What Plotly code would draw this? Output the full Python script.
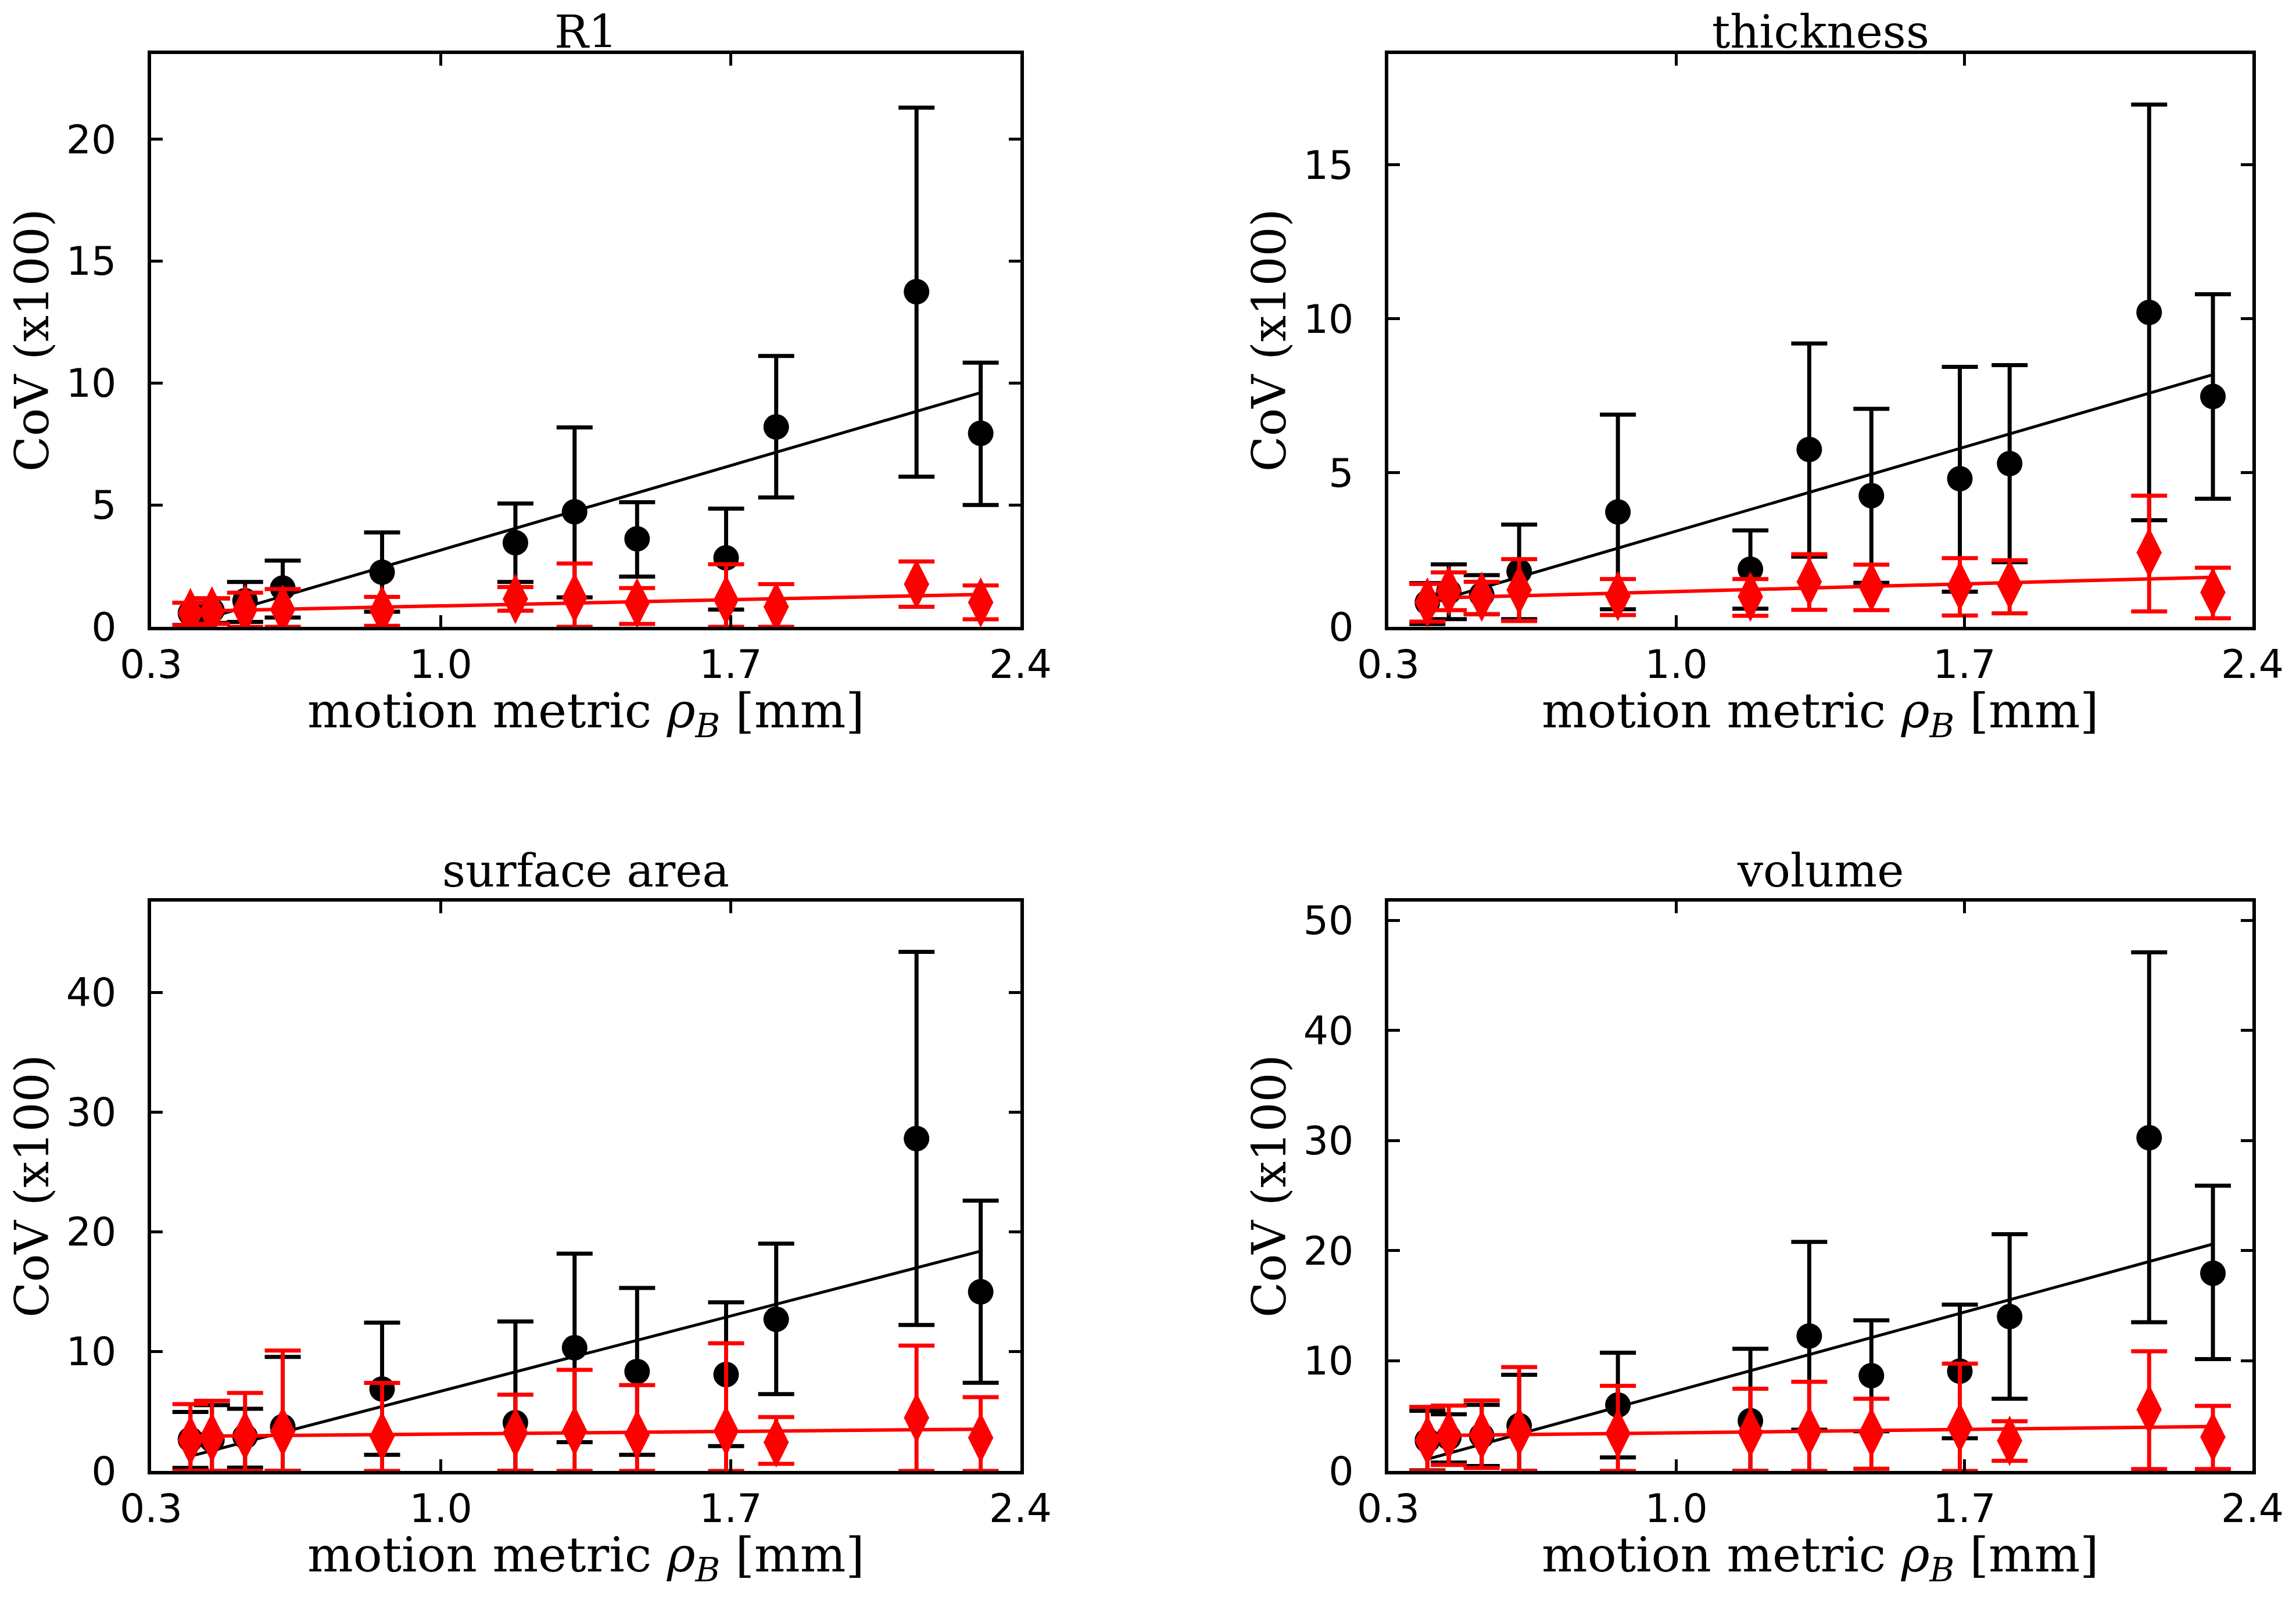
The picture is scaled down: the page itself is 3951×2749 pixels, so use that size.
import plotly.graph_objects as go

# page body has an 8px margin; size the figure so it fits the 3951x2749 window
OFF = 8
FIG_W, FIG_H = 3951 - 2 * OFF, 2749 - 2 * OFF

x_vals = [0.395, 0.447, 0.527, 0.618, 0.858, 1.180, 1.323, 1.474, 1.689, 1.810, 2.149, 2.304]
fit_x = [0.395, 2.304]
x_tickvals = [0.3, 1.0, 1.7, 2.4]
x_ticktext = ["0.3", "1.0", "1.7", "2.4"]

titles = ["R1", "thickness", "surface area", "volume"]

# R1
r1_black = [0.56, 0.67, 1.07, 1.59, 2.24, 3.45, 4.72, 3.61, 2.83, 8.20, 13.75, 7.94]
r1_black_lo = [0.08, 0.16, 0.20, 0.38, 0.62, 1.84, 1.21, 2.06, 0.71, 5.31, 6.16, 5.00]
r1_black_hi = [0.99, 1.17, 1.84, 2.72, 3.87, 5.06, 8.18, 5.11, 4.85, 11.11, 21.30, 10.84]
r1_red = [0.56, 0.63, 0.71, 0.71, 0.67, 1.15, 1.19, 0.98, 1.10, 0.82, 1.75, 1.00]
r1_red_lo = [0.08, 0.12, 0.0, 0.0, 0.04, 0.66, 0.0, 0.12, 0.0, 0.0, 0.82, 0.31]
r1_red_hi = [0.99, 1.17, 1.40, 1.55, 1.23, 1.63, 2.60, 1.59, 2.57, 1.75, 2.68, 1.70]
r1_fit_black = [0.15, 9.61]
r1_fit_red = [0.64, 1.33]

# thickness
th_black = [0.79, 1.14, 1.04, 1.80, 3.73, 1.87, 5.76, 4.26, 4.81, 5.30, 10.21, 7.48]
th_black_lo = [0.09, 0.25, 0.41, 0.25, 0.57, 0.59, 2.28, 1.43, 1.14, 2.10, 3.46, 4.16]
th_black_hi = [1.42, 2.03, 1.68, 3.32, 6.89, 3.13, 9.20, 7.08, 8.44, 8.50, 16.96, 10.80]
th_red = [0.79, 1.17, 0.98, 1.20, 1.00, 0.98, 1.46, 1.30, 1.33, 1.37, 2.41, 1.12]
th_red_lo = [0.17, 0.54, 0.41, 0.19, 0.38, 0.36, 0.55, 0.54, 0.37, 0.44, 0.50, 0.28]
th_red_hi = [1.39, 1.77, 1.46, 2.20, 1.55, 1.55, 2.36, 2.02, 2.23, 2.16, 4.26, 1.92]
th_fit_black = [0.75, 8.19]
th_fit_red = [0.93, 1.61]

# surface area
sa_black = [2.63, 2.60, 2.88, 3.70, 6.85, 4.03, 10.30, 8.31, 8.06, 12.68, 27.79, 14.98]
sa_black_lo = [0.25, 0.0, 0.28, 0.0, 1.35, 0.0, 2.40, 1.35, 2.08, 6.42, 12.20, 7.37]
sa_black_hi = [4.93, 5.50, 5.20, 9.53, 12.40, 12.49, 18.16, 15.30, 14.10, 19.00, 43.40, 22.60]
sa_red = [2.55, 2.79, 2.96, 3.29, 2.88, 3.20, 3.35, 3.02, 3.34, 2.39, 4.44, 2.77]
sa_red_lo = [0.0, 0.0, 0.0, 0.0, 0.0, 0.0, 0.0, 0.0, 0.0, 0.60, 0.0, 0.0]
sa_red_hi = [5.59, 5.87, 6.52, 10.07, 7.36, 6.38, 8.45, 7.18, 10.67, 4.50, 10.48, 6.17]
sa_fit_black = [1.23, 18.38]
sa_fit_red = [2.90, 3.49]

# volume
vo_black = [2.77, 3.04, 3.20, 4.11, 5.99, 4.56, 12.25, 8.65, 9.06, 14.02, 30.26, 17.95]
vo_black_lo = [0.05, 0.77, 0.45, 0.0, 1.22, 0.0, 3.75, 3.60, 2.97, 6.56, 13.50, 10.15]
vo_black_hi = [5.46, 5.15, 6.00, 8.73, 10.73, 11.09, 20.80, 13.68, 15.10, 21.50, 47.10, 25.90]
vo_red = [2.77, 3.22, 3.26, 3.58, 3.40, 3.49, 3.61, 3.49, 3.93, 2.74, 5.57, 3.08]
vo_red_lo = [0.0, 0.54, 0.27, 0.0, 0.0, 0.0, 0.0, 0.20, 0.0, 0.92, 0.17, 0.17]
vo_red_hi = [5.81, 5.94, 6.39, 9.43, 7.73, 7.46, 8.10, 6.56, 9.74, 4.51, 10.87, 5.91]
vo_fit_black = [1.07, 20.60]
vo_fit_red = [3.20, 4.03]

y_ranges = [[0, 23.5], [0, 18.6], [0, 47.6], [0, 51.7]]
y_tickvals = [[0, 5, 10, 15, 20], [0, 5, 10, 15], [0, 10, 20, 30, 40], [0, 10, 20, 30, 40, 50]]

panels = [
    (r1_black, r1_black_lo, r1_black_hi, r1_red, r1_red_lo, r1_red_hi, r1_fit_black, r1_fit_red),
    (th_black, th_black_lo, th_black_hi, th_red, th_red_lo, th_red_hi, th_fit_black, th_fit_red),
    (sa_black, sa_black_lo, sa_black_hi, sa_red, sa_red_lo, sa_red_hi, sa_fit_black, sa_fit_red),
    (vo_black, vo_black_lo, vo_black_hi, vo_red, vo_red_lo, vo_red_hi, vo_fit_black, vo_fit_red),
]

# plot-area boxes in window pixels (left, right, top, bottom)
boxes = [
    (260, 1756, 93, 1079),
    (2389, 3876, 93, 1079),
    (260, 1756, 1552, 2532),
    (2389, 3876, 1552, 2532),
]
xtitle_gap = [150, 150, 150, 150]


def px(v):
    return (v - OFF) / FIG_W


def py(v):
    return 1 - (v - OFF) / FIG_H


RED = "#ff0000"
BLACK = "#000000"
SERIF = "DejaVu Serif"
SANS = "DejaVu Sans"

fig = go.Figure()
layout_axes = {}
annotations = []

for i, (pan, box) in enumerate(zip(panels, boxes)):
    bk, bk_lo, bk_hi, rd, rd_lo, rd_hi, fb, fr = pan
    n = i + 1
    xa = "x" if n == 1 else f"x{n}"
    ya = "y" if n == 1 else f"y{n}"

    fig.add_trace(go.Scatter(
        x=x_vals, y=bk, mode="markers", xaxis=xa, yaxis=ya,
        marker=dict(symbol="circle", size=44, color=BLACK),
        error_y=dict(type="data", symmetric=False,
                     array=[h - v for h, v in zip(bk_hi, bk)],
                     arrayminus=[v - l for v, l in zip(bk, bk_lo)],
                     color=BLACK, thickness=7, width=31),
        showlegend=False))
    fig.add_trace(go.Scatter(
        x=fit_x, y=fb, mode="lines", xaxis=xa, yaxis=ya,
        line=dict(color=BLACK, width=5), showlegend=False))
    fig.add_trace(go.Scatter(
        x=x_vals, y=rd, mode="markers", xaxis=xa, yaxis=ya,
        marker=dict(symbol="diamond-tall", size=62, color=RED),
        error_y=dict(type="data", symmetric=False,
                     array=[h - v for h, v in zip(rd_hi, rd)],
                     arrayminus=[v - l for v, l in zip(rd, rd_lo)],
                     color=RED, thickness=7, width=31),
        showlegend=False))
    # wider diamond body (same points) so the marker matches the thin-diamond shape
    fig.add_trace(go.Scatter(
        x=x_vals, y=rd, mode="markers", xaxis=xa, yaxis=ya,
        marker=dict(symbol="diamond", size=34, color=RED),
        showlegend=False))
    fig.add_trace(go.Scatter(
        x=fit_x, y=fr, mode="lines", xaxis=xa, yaxis=ya,
        line=dict(color=RED, width=6), showlegend=False))

    l, r, t, b = box
    axis_common = dict(
        showline=True, linecolor=BLACK, linewidth=6, mirror="allticks",
        ticks="inside", ticklen=20, tickwidth=5, tickcolor=BLACK,
        showgrid=False, zeroline=False, automargin=False,
        tickfont=dict(family=SANS, size=68, color=BLACK),
    )
    xkey = "xaxis" if n == 1 else f"xaxis{n}"
    ykey = "yaxis" if n == 1 else f"yaxis{n}"
    layout_axes[xkey] = dict(axis_common, domain=[px(l), px(r)], range=[0.3, 2.4],
                             tickvals=x_tickvals, ticktext=x_ticktext,
                             anchor=ya, ticklabelstandoff=0)
    layout_axes[ykey] = dict(axis_common, domain=[py(b), py(t)], range=y_ranges[i],
                             tickvals=y_tickvals[i], anchor=xa,
                             ticklabelstandoff=40)

    cx = px((l + r) / 2)
    cy = py((t + b) / 2)
    title_top = max(t - 100, OFF)
    annotations.append(dict(text=titles[i], x=cx, y=py(title_top),
                            xref="paper", yref="paper", showarrow=False,
                            xanchor="center", yanchor="top",
                            font=dict(family=SERIF, size=78, color=BLACK)))
    annotations.append(dict(text="motion metric <i>ρ</i><sub><i>B</i></sub> [mm]",
                            x=cx, y=py(b + xtitle_gap[i]),
                            xref="paper", yref="paper", showarrow=False,
                            xanchor="center", yanchor="middle",
                            font=dict(family=SERIF, size=83, color=BLACK)))
    annotations.append(dict(text="CoV (x100)", textangle=-90,
                            x=px(l - 205), y=cy,
                            xref="paper", yref="paper", showarrow=False,
                            xanchor="center", yanchor="middle",
                            font=dict(family=SERIF, size=80, color=BLACK)))

fig.update_layout(
    width=FIG_W, height=FIG_H,
    margin=dict(l=0, r=0, t=0, b=0, autoexpand=False),
    paper_bgcolor="white", plot_bgcolor="white",
    annotations=annotations,
    **layout_axes,
)

fig.write_html("out.html")
